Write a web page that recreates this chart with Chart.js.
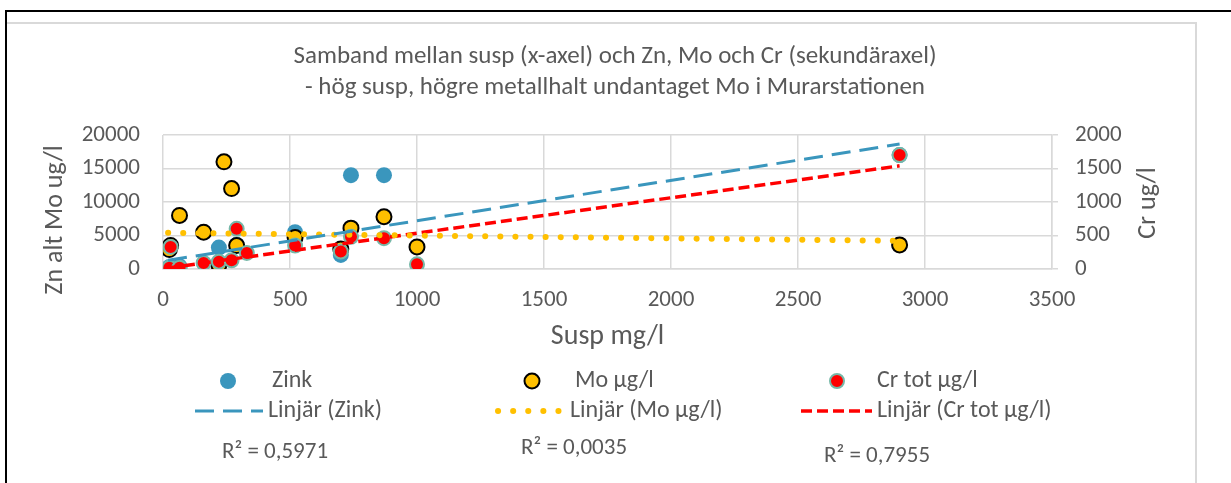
<!DOCTYPE html>
<html>
<head>
<meta charset="utf-8">
<script src="https://cdn.jsdelivr.net/npm/chart.js@4.4.1/dist/chart.umd.min.js"></script>
<style>
  html, body { margin: 0; padding: 0; background: #fff; }
  #wrap { width: 1231px; height: 483px; position: relative; }
</style>
</head>
<body>
<div id="wrap"><canvas id="chart" width="1231" height="483"></canvas></div>
<script>
// Title lines
const titleLines = [
    "Samband mellan susp (x-axel) och Zn, Mo och Cr (sekundäraxel)",
    "- hög susp, högre metallhalt undantaget Mo i Murarstationen"
];

// Zink (left axis)
const zinkSusp = [25, 65, 220, 290, 520, 700, 740, 870, 2900];
const zinkVal  = [300, 400, 3200, 3600, 5500, 2100, 14000, 14000, 17000];

// Mo (left axis)
const moSusp = [25, 30, 65, 160, 220, 240, 270, 290, 520, 700, 740, 870, 1000, 2900];
const moVal  = [2900, 3500, 8000, 5500, 600, 16000, 12000, 3500, 4700, 3000, 6100, 7800, 3300, 3600];

// Cr tot (right axis)
const crSusp = [25, 30, 65, 160, 220, 270, 290, 330, 520, 700, 740, 870, 1000, 2900];
const crVal  = [20, 330, 20, 90, 110, 130, 600, 240, 350, 260, 480, 460, 70, 1700];

// Trendline ends
const trendSusp = [20, 2900];
const zinkTrend = [1300, 18650];
const moTrend   = [5400, 4200];
const crTrend   = [15, 1540];

// R² labels
const r2Labels = ["R² = 0,5971", "R² = 0,0035", "R² = 0,7955"];

// Axes
const xTicks = [0, 3500, 500];
const yLeftTicks = [0, 20000, 5000];
const yRightTicks = [0, 2000, 500];

const FONT = "Carlito, Lato, sans-serif";
const GREY = "#595959";
const ZN_BLUE = "#3a96bd";
const MO_YELLOW = "#ffc000";
const CR_RED = "#ff0000";
const CR_EDGE = "#76b8a8";

function pts(xs, ys) {
    return xs.map((x, i) => ({ x: x, y: ys[i] }));
}

// draws title, axis titles, legend, R² labels and the frame
const decorations = {
    id: "decorations",
    beforeDraw(chart) {
        const ctx = chart.ctx;
        ctx.save();
        ctx.fillStyle = "#fff";
        ctx.fillRect(0, 0, chart.width, chart.height);
        ctx.restore();
    },
    afterDraw(chart) {
        const ctx = chart.ctx;
        const area = chart.chartArea;
        ctx.save();

        // frame
        ctx.strokeStyle = "#d9d9d9";
        ctx.lineWidth = 2;
        ctx.beginPath();
        ctx.moveTo(7, 23); ctx.lineTo(1196, 23); ctx.lineTo(1196, 483);
        ctx.stroke();
        ctx.strokeStyle = "#000";
        ctx.lineWidth = 2;
        ctx.beginPath();
        ctx.moveTo(6, 483); ctx.lineTo(6, 11); ctx.lineTo(1231, 11);
        ctx.stroke();

        // title
        ctx.fillStyle = GREY;
        ctx.textAlign = "center";
        ctx.textBaseline = "middle";
        ctx.font = "25px " + FONT;
        ctx.fillText(titleLines[0], 615, 57);
        ctx.fillText(titleLines[1], 615, 88);

        // axis titles
        ctx.font = "28px " + FONT;
        ctx.fillText("Susp mg/l", (area.left + area.right) / 2, 337);
        ctx.font = "26px " + FONT;
        ctx.save();
        ctx.translate(55, 220);
        ctx.rotate(-Math.PI / 2);
        ctx.fillText("Zn alt Mo ug/l", 0, 0);
        ctx.restore();
        ctx.save();
        ctx.translate(1148, 203);
        ctx.rotate(-Math.PI / 2);
        ctx.fillText("Cr ug/l", 0, 0);
        ctx.restore();

        // legend
        const ds = chart.data.datasets;
        const markerX = [228, 532, 837];
        const lineX = [[195, 263], [498, 564], [801, 872]];
        const textX1 = [272, 575, 877];
        const textX2 = [268, 570, 877];
        ctx.font = "24px " + FONT;
        ctx.textAlign = "left";
        for (let i = 0; i < 3; i++) {
            const m = ds[i];
            ctx.beginPath();
            ctx.arc(markerX[i], 381, m.pointRadius, 0, Math.PI * 2);
            ctx.fillStyle = m.backgroundColor;
            ctx.fill();
            if (m.borderWidth > 0) {
                ctx.lineWidth = m.borderWidth;
                ctx.strokeStyle = m.borderColor;
                ctx.stroke();
            }
            ctx.fillStyle = GREY;
            ctx.fillText(m.label, textX1[i], 381);

            const t = ds[i + 3];
            ctx.beginPath();
            ctx.setLineDash(t.borderDash);
            ctx.lineCap = t.borderCapStyle;
            ctx.lineWidth = t.borderWidth;
            ctx.strokeStyle = t.borderColor;
            ctx.moveTo(lineX[i][0], 411);
            ctx.lineTo(lineX[i][1], 411);
            ctx.stroke();
            ctx.setLineDash([]);
            ctx.fillStyle = GREY;
            ctx.fillText(t.label, textX2[i], 411);
        }

        // R² labels
        ctx.font = "23px " + FONT;
        const r2Pos = [[222, 452], [521, 448], [824, 456]];
        r2Labels.forEach((s, i) => ctx.fillText(s, r2Pos[i][0], r2Pos[i][1]));

        ctx.restore();
    }
};

const plain = v => String(v);

const ctx = document.getElementById("chart");
new Chart(ctx, {
    type: "scatter",
    data: {
        datasets: [
            {
                label: "Zink", data: pts(zinkSusp, zinkVal), yAxisID: "y",
                backgroundColor: ZN_BLUE, borderColor: ZN_BLUE, borderWidth: 0,
                pointRadius: 8, order: 3
            },
            {
                label: "Mo µg/l", data: pts(moSusp, moVal), yAxisID: "y",
                backgroundColor: MO_YELLOW, borderColor: "#000", borderWidth: 2,
                pointRadius: 7.5, order: 2
            },
            {
                label: "Cr tot µg/l", data: pts(crSusp, crVal), yAxisID: "y1",
                backgroundColor: CR_RED, borderColor: CR_EDGE, borderWidth: 2,
                pointRadius: 7, order: 1
            },
            {
                label: "Linjär (Zink)", type: "line", data: pts(trendSusp, zinkTrend), yAxisID: "y",
                borderColor: ZN_BLUE, borderWidth: 3, borderDash: [19, 9], borderCapStyle: "butt",
                pointRadius: 0, fill: false, showLine: true, order: 0
            },
            {
                label: "Linjär (Mo µg/l)", type: "line", data: pts(trendSusp, moTrend), yAxisID: "y",
                borderColor: MO_YELLOW, borderWidth: 6, borderDash: [0.1, 15], borderCapStyle: "round",
                pointRadius: 0, fill: false, showLine: true, order: 0
            },
            {
                label: "Linjär (Cr tot µg/l)", type: "line", data: pts(trendSusp, crTrend), yAxisID: "y1",
                borderColor: CR_RED, borderWidth: 3.5, borderDash: [11, 5], borderCapStyle: "butt",
                pointRadius: 0, fill: false, showLine: true, order: 0
            }
        ]
    },
    options: {
        responsive: false,
        animation: false,
        devicePixelRatio: 1,
        layout: { padding: { left: 0, right: 0, top: 135, bottom: 174 } },
        plugins: { legend: { display: false }, tooltip: { enabled: false } },
        scales: {
            x: {
                type: "linear", position: "bottom",
                min: xTicks[0], max: xTicks[1],
                ticks: { stepSize: xTicks[2], color: GREY, font: { family: FONT, size: 23 }, padding: 17, callback: plain },
                grid: { color: "#d9d9d9", lineWidth: 1.5, drawTicks: false },
                border: { color: "#d9d9d9", width: 1.5 },
                afterFit: s => { s.height = 40; }
            },
            y: {
                position: "left",
                min: yLeftTicks[0], max: yLeftTicks[1],
                ticks: { stepSize: yLeftTicks[2], color: GREY, font: { family: FONT, size: 23 }, padding: 23, callback: plain },
                grid: { color: "#d9d9d9", lineWidth: 1.5, drawTicks: false },
                border: { display: false },
                afterFit: s => { s.width = 163; }
            },
            y1: {
                position: "right",
                min: yRightTicks[0], max: yRightTicks[1],
                ticks: { stepSize: yRightTicks[2], color: GREY, font: { family: FONT, size: 23 }, padding: 17, callback: plain },
                grid: { color: "#d9d9d9", lineWidth: 1.5, drawOnChartArea: false, tickLength: 6 },
                border: { color: "#d9d9d9", width: 1.5 },
                afterFit: s => { s.width = 179; }
            }
        }
    },
    plugins: [decorations]
});
</script>
</body>
</html>
